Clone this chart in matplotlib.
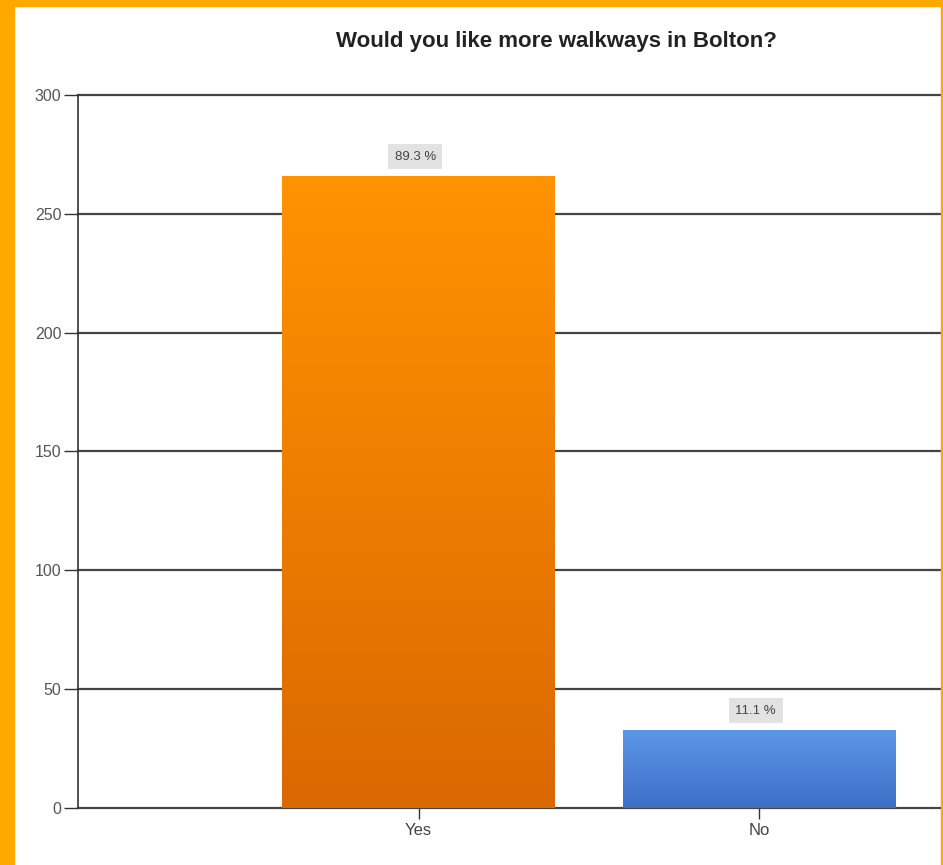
import matplotlib
matplotlib.use('Agg')
import matplotlib.pyplot as plt
import numpy as np
from matplotlib.colors import LinearSegmentedColormap

# Daten
categories = ['Yes', 'No']
counts = [266, 33]
percent_labels = ['89.3 %', '11.1 %']
top_colors = ['#FF9300', '#5D97EA']
bottom_colors = ['#DA6800', '#3D6FC6']

plt.rcParams['font.family'] = ['Liberation Sans', 'DejaVu Sans']

fig = plt.figure(figsize=(9.43, 8.65), dpi=100, facecolor='white')

# orange Rahmen
fig.patches.append(plt.Rectangle((0, 0), 14 / 943, 1, transform=fig.transFigure,
                                 color='#FFA800', zorder=0))
fig.patches.append(plt.Rectangle((0, 1 - 6 / 865), 1, 6 / 865, transform=fig.transFigure,
                                 color='#FFA800', zorder=0))
fig.patches.append(plt.Rectangle((1 - 2 / 943, 0), 2 / 943, 1, transform=fig.transFigure,
                                 color='#FFA800', zorder=0))

ax = fig.add_axes([78 / 943, 57 / 865, 865 / 943, 713 / 865])
ax.set_facecolor('white')

x = np.arange(len(categories))
bars = ax.bar(x, counts, width=0.8, color='none', zorder=3)

# Farbverlauf in den Balken
for bar, c_top, c_bot in zip(bars, top_colors, bottom_colors):
    cmap = LinearSegmentedColormap.from_list('g', [c_bot, c_top])
    bx, by = bar.get_x(), bar.get_y()
    w, h = bar.get_width(), bar.get_height()
    grad = np.linspace(0, 1, 256).reshape(-1, 1)
    im = ax.imshow(grad, cmap=cmap, origin='lower', aspect='auto',
                   extent=[bx, bx + w, by, by + h], zorder=3)
    im.set_clip_path(bar)

for xi, c, lab in zip(x, counts, percent_labels):
    ax.text(xi - 0.01, c + 8, lab, ha='center', va='center', fontsize=9.5,
            color='#444444', zorder=5,
            bbox=dict(boxstyle='square,pad=0.5', facecolor='#E2E2E2', edgecolor='none'))

ax.set_xlim(-1, 1.54)
ax.set_ylim(0, 300)
ax.set_yticks(range(0, 301, 50))
ax.set_xticks(x)
ax.set_xticklabels(categories)
ax.yaxis.grid(True, color='#444444', linewidth=1.6, zorder=1)
ax.set_axisbelow(True)
for gl in ax.get_ygridlines():
    gl.set_clip_on(False)

for s in ['top', 'right', 'bottom']:
    ax.spines[s].set_visible(False)
ax.spines['left'].set_color('#333333')
ax.spines['left'].set_linewidth(1.2)
ax.tick_params(axis='y', length=10, width=1, color='#333333', labelsize=11.5,
               labelcolor='#555555', pad=2)
ax.tick_params(axis='x', length=8, width=1, color='#333333', labelsize=12,
               labelcolor='#444444', pad=3)

fig.text(556 / 943, 1 - 42 / 865, 'Would you like more walkways in Bolton?',
         ha='center', va='center', fontsize=16, fontweight='bold', color='#222222')

fig.savefig('out.png', dpi=100, facecolor='white')
